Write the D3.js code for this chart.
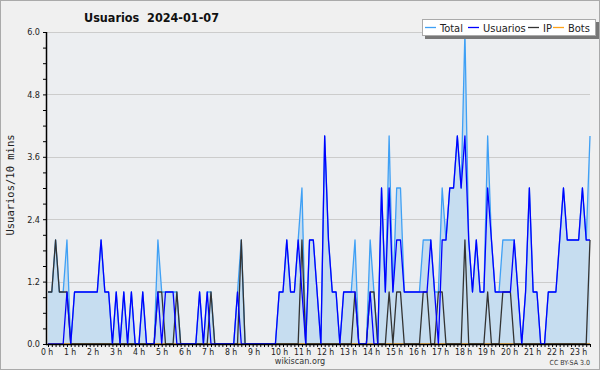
<!DOCTYPE html>
<html>
<head>
<meta charset="utf-8">
<script src="https://cdn.jsdelivr.net/npm/d3@7"></script>
<style>
  body { margin: 0; background: #fff; }
  svg { display: block; font-family: "DejaVu Sans Condensed", "DejaVu Sans", sans-serif; }
</style>
</head>
<body>
<script>
// 10-minute slots over the day (144 points)
var total = [1,1,2,1,1,2,0,1,1,1,1,1,1,1,2,1,1,0,1,0,1,0,1,0,
             0,1,0,0,0,2,1,1,1,1,1,0,0,0,0,0,1,0,1,1,0,0,0,0,
             0,0,1,2,0,0,0,0,0,0,0,0,0,1,1,2,1,1,2,3,0,2,2,1,
             0,4,2,1,1,0,1,1,1,2,0,0,0,2,1,0,3,1,4,1,3,3,1,1,
             1,1,1,2,2,2,1,1,3,2,3,3,4,3,6,2,1,2,1,1,4,2,1,1,
             2,2,2,2,1,0,1,3,1,1,0,0,1,1,1,2,3,2,2,2,2,3,2,4];
var usuarios = [0,0,0,0,0,1,0,1,1,1,1,1,1,1,2,1,1,0,1,0,1,0,1,0,
                0,1,0,0,0,1,0,1,1,1,0,0,0,0,0,0,1,0,1,0,0,0,0,0,
                0,0,1,0,0,0,0,0,0,0,0,0,0,1,1,2,1,1,2,1,0,2,2,1,
                0,4,2,1,1,0,1,1,1,1,0,0,0,1,0,0,3,1,3,1,2,2,1,1,
                1,1,1,1,1,2,1,0,2,2,3,3,4,3,4,2,1,2,1,1,3,2,1,1,
                1,1,1,2,1,0,1,3,1,1,0,0,1,1,1,2,3,2,2,2,2,3,2,2];
var ip = [1,1,2,1,1,1,0,0,0,0,0,0,0,0,0,0,0,0,0,0,0,0,0,0,
          0,0,0,0,0,1,1,0,0,0,1,0,0,0,0,0,0,0,0,1,0,0,0,0,
          0,0,0,2,0,0,0,0,0,0,0,0,0,0,0,0,0,0,0,2,0,0,0,0,
          0,0,0,0,0,0,0,0,0,1,0,0,0,1,1,0,0,0,1,0,1,1,0,0,
          0,0,0,1,1,0,0,1,1,0,0,0,0,0,2,0,0,0,0,0,1,0,0,0,
          1,1,1,0,0,0,0,0,0,0,0,0,0,0,0,0,0,0,0,0,0,0,0,2];
var bots = total.map(function(){ return 0; });

var hours = d3.range(0, 24);
var hourLabels = hours.map(function(h){ return h + " h"; });
var yTicks = [0, 1.2, 2.4, 3.6, 4.8, 6.0];
var legendNames = ["Total", "Usuarios", "IP", "Bots"];
var legendColors = ["#3fa0f5", "#0000ff", "#333333", "#ffa31a"];

var W = 600, H = 370;
var plotL = 47, plotR = 590, plotT = 32, plotB = 344;

var svg = d3.select("body").append("svg")
    .attr("width", W)
    .attr("height", H);

// outer background and frame
svg.append("rect")
    .attr("x", 0.5).attr("y", 0.5)
    .attr("width", W - 1).attr("height", H - 1)
    .attr("fill", "#f0f0f0")
    .attr("stroke", "#aaaaaa");

svg.append("rect")
    .attr("x", plotL).attr("y", plotT)
    .attr("width", plotR - plotL).attr("height", plotB - plotT)
    .attr("fill", "#eceef1");

var x = d3.scaleLinear().domain([0, 143]).range([plotL + 1, plotR]);
var y = d3.scaleLinear().domain([0, 6]).range([plotB, plotT]);
// hour labels are laid out on their own 23px grid, left aligned
var xLabel = d3.scaleLinear().domain([0, 24]).range([41, 41 + 23 * 24]);

// grid lines
svg.append("g")
    .selectAll("line")
    .data(yTicks.slice(1))
    .enter().append("line")
    .attr("x1", plotL).attr("x2", plotR)
    .attr("y1", function(d){ return Math.round(y(d)) + 0.5; })
    .attr("y2", function(d){ return Math.round(y(d)) + 0.5; })
    .attr("stroke", "#cccccc");

// total area + lines
var area = d3.area()
    .x(function(d, i){ return x(i); })
    .y0(y(0))
    .y1(function(d){ return y(d); });
svg.append("path")
    .datum(total)
    .attr("d", area)
    .attr("fill", "#c6ddf0");

var line = d3.line()
    .x(function(d, i){ return x(i); })
    .y(function(d){ return y(d); });

[[bots, legendColors[3]], [total, legendColors[0]], [ip, legendColors[2]], [usuarios, legendColors[1]]]
    .forEach(function(s){
        svg.append("path")
            .datum(s[0])
            .attr("d", line)
            .attr("fill", "none")
            .attr("stroke", s[1])
            .attr("stroke-width", 1.3)
            .attr("stroke-linejoin", "round");
    });

// y axis
var yAxis = d3.axisLeft(y)
    .tickValues(d3.range(0, 6.01, 0.3))
    .tickSize(4)
    .tickFormat(function(d){
        var m = yTicks.find(function(t){ return Math.abs(t - d) < 1e-6; });
        return m === undefined ? "" : m.toFixed(1);
    });
var gy = svg.append("g")
    .attr("transform", "translate(" + plotL + ",0)")
    .call(yAxis);
gy.select(".domain").remove();
gy.selectAll("line").attr("stroke", "#000");
gy.selectAll("text").attr("font-size", 9).attr("fill", "#222").attr("font-family", "DejaVu Sans Condensed, DejaVu Sans, sans-serif");
svg.append("line")
    .attr("x1", plotL - 0.5).attr("x2", plotL - 0.5)
    .attr("y1", plotT).attr("y2", plotB + 1)
    .attr("stroke", "#000").attr("stroke-width", 1.5);

// x axis: small ticks every 10 minutes
var xAxis = d3.axisBottom(x)
    .tickValues(d3.range(0, 144, 1))
    .tickSize(3)
    .tickFormat("");
var gx = svg.append("g")
    .attr("transform", "translate(0," + plotB + ")")
    .call(xAxis);
gx.select(".domain").remove();
gx.selectAll("line").attr("stroke", "#000");
svg.append("line")
    .attr("x1", plotL - 1).attr("x2", plotR)
    .attr("y1", plotB + 0.5).attr("y2", plotB + 0.5)
    .attr("stroke", "#000").attr("stroke-width", 1.5);

svg.append("g")
    .selectAll("text")
    .data(hours)
    .enter().append("text")
    .attr("x", function(h){ return xLabel(h); })
    .attr("y", 355)
    .attr("font-size", 8.6)
    .attr("fill", "#222")
    .text(function(h){ return hourLabels[h]; });

// title
svg.append("text")
    .attr("x", 84).attr("y", 22)
    .attr("font-size", 12.5).attr("font-weight", "bold")
    .attr("fill", "#111")
    .style("white-space", "pre")
    .text("Usuarios  2024-01-07");

// y label
svg.append("text")
    .attr("transform", "translate(14,185) rotate(-90)")
    .attr("text-anchor", "middle")
    .attr("font-size", 10.5)
    .attr("font-family", "DejaVu Sans Mono, monospace")
    .attr("fill", "#222")
    .text("Usuarios/10 mins");

// footer
svg.append("text")
    .attr("x", 300).attr("y", 364)
    .attr("text-anchor", "middle")
    .attr("font-size", 9)
    .attr("fill", "#333")
    .text("wikiscan.org");
svg.append("text")
    .attr("x", 590).attr("y", 365)
    .attr("text-anchor", "end")
    .attr("font-size", 7)
    .attr("fill", "#333")
    .text("CC BY-SA 3.0");

// legend
var lg = svg.append("g").attr("transform", "translate(422,19)");
lg.append("rect")
    .attr("x", 3).attr("y", 3)
    .attr("width", 174).attr("height", 17)
    .attr("fill", "#777");
lg.append("rect")
    .attr("x", 0.5).attr("y", 0.5)
    .attr("width", 173).attr("height", 16)
    .attr("fill", "#fff")
    .attr("stroke", "#aaa");
var legendX = [3, 46, 106, 131];
legendNames.forEach(function(name, i){
    lg.append("line")
        .attr("x1", legendX[i]).attr("x2", legendX[i] + 11)
        .attr("y1", 8.5).attr("y2", 8.5)
        .attr("stroke", legendColors[i]).attr("stroke-width", 1.3);
    lg.append("text")
        .attr("x", legendX[i] + 15).attr("y", 12.5)
        .attr("font-size", 11)
        .attr("fill", "#222")
        .text(name);
});
</script>
</body>
</html>
